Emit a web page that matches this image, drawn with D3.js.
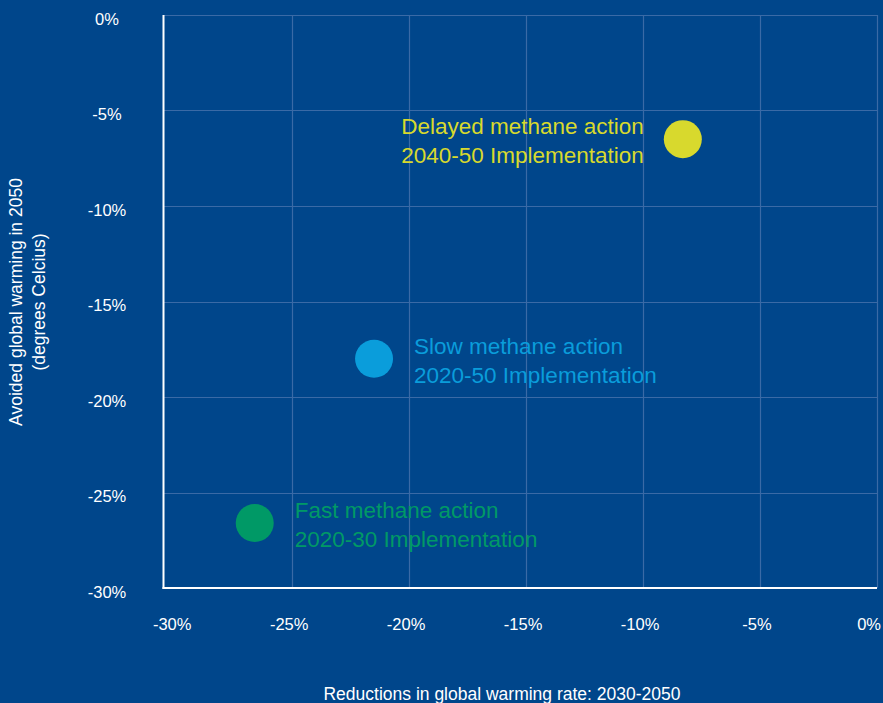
<!DOCTYPE html>
<html>
<head>
<meta charset="utf-8">
<script src="https://cdn.jsdelivr.net/npm/d3@7"></script>
<style>
  html, body { margin: 0; padding: 0; background: #00468b; }
  svg { display: block; font-family: "Liberation Sans", Arial, sans-serif; }
</style>
</head>
<body>
<svg id="chart" width="883" height="703"></svg>
<script>
// Methane action scenarios: warming-rate reduction (x) vs avoided warming (y), in %
const scenarios = ["Fast methane action", "Slow methane action", "Delayed methane action"];
const periods = ["2020-30 Implementation", "2020-50 Implementation", "2040-50 Implementation"];
const rateReduction = [-26.6, -21.5, -8.3];
const avoidedWarming = [-26.6, -18.0, -6.5];
const colors = ["#009966", "#0a9ddb", "#d8d92d"];

const xTicks = [-30, -25, -20, -15, -10, -5, 0];
const yTicks = [0, -5, -10, -15, -20, -25, -30];
const xTitle = "Reductions in global warming rate: 2030-2050";
const yTitle = ["Avoided global warming in 2050", "(degrees Celcius)"];

const svg = d3.select("#chart");
const W = 883, H = 703;

svg.append("rect").attr("width", W).attr("height", H).attr("fill", "#00468b");

const x = d3.scaleLinear().domain([-30.5, 0]).range([163.5, 877]);
const y = d3.scaleLinear().domain([-30, 0]).range([588, 15]);

const gridColor = "#3a6aa6";

// vertical gridlines
svg.append("g")
  .selectAll("line")
  .data(xTicks.filter(d => d > -30))
  .join("line")
  .attr("x1", d => Math.round(x(d)) + 0.5)
  .attr("x2", d => Math.round(x(d)) + 0.5)
  .attr("y1", y(0))
  .attr("y2", y(-30))
  .attr("stroke", gridColor)
  .attr("stroke-width", 1.2);

// horizontal gridlines
svg.append("g")
  .selectAll("line")
  .data(yTicks.filter(d => d > -30))
  .join("line")
  .attr("x1", x(-30.5))
  .attr("x2", x(0))
  .attr("y1", d => Math.round(y(d)) + 0.5)
  .attr("y2", d => Math.round(y(d)) + 0.5)
  .attr("stroke", gridColor)
  .attr("stroke-width", 1.2);

// axis lines
svg.append("line")
  .attr("x1", x(-30.5)).attr("x2", x(-30.5))
  .attr("y1", y(0)).attr("y2", y(-30) + 1)
  .attr("stroke", "#ffffff").attr("stroke-width", 2);
svg.append("line")
  .attr("x1", x(-30.5) - 1).attr("x2", x(0))
  .attr("y1", y(-30)).attr("y2", y(-30))
  .attr("stroke", "#ffffff").attr("stroke-width", 2);

// tick labels
svg.append("g")
  .selectAll("text")
  .data(yTicks)
  .join("text")
  .attr("x", 107)
  .attr("y", d => y(d) + 4)
  .attr("dy", "0.35em")
  .attr("text-anchor", "middle")
  .attr("fill", "#ffffff")
  .attr("font-size", 16.5)
  .text(d => d + "%");

svg.append("g")
  .selectAll("text")
  .data(xTicks)
  .join("text")
  .attr("x", d => d === 0 ? 881 : x(d) - 3)
  .attr("y", 624)
  .attr("dy", "0.35em")
  .attr("text-anchor", d => d === 0 ? "end" : "middle")
  .attr("fill", "#ffffff")
  .attr("font-size", 16.5)
  .text(d => d + "%");

// axis titles
svg.append("text")
  .attr("x", 502).attr("y", 694)
  .attr("dy", "0.35em")
  .attr("text-anchor", "middle")
  .attr("fill", "#ffffff")
  .attr("font-size", 17.5)
  .text(xTitle);

svg.append("text")
  .attr("transform", "translate(16,302) rotate(-90)")
  .attr("text-anchor", "middle")
  .attr("fill", "#ffffff")
  .attr("font-size", 17.5)
  .selectAll("tspan")
  .data(yTitle)
  .join("tspan")
  .attr("x", 0)
  .attr("dy", (d, i) => i === 0 ? "0.35em" : "23px")
  .text(d => d);

// scenario points
const pts = scenarios.map((s, i) => ({
  name: s, period: periods[i], xv: rateReduction[i], yv: avoidedWarming[i], color: colors[i]
}));

svg.append("g")
  .selectAll("circle")
  .data(pts)
  .join("circle")
  .attr("cx", d => x(d.xv))
  .attr("cy", d => y(d.yv))
  .attr("r", 19)
  .attr("fill", d => d.color);

// scenario labels: delayed sits left of its point, others to the right
const labels = svg.append("g")
  .selectAll("text")
  .data(pts)
  .join("text")
  .attr("fill", d => d.color)
  .attr("font-size", 22.5)
  .attr("text-anchor", d => d.name.startsWith("Delayed") ? "end" : "start")
  .attr("transform", d => {
    const px = d.name.startsWith("Delayed") ? x(d.xv) - 39 : x(d.xv) + 40;
    return `translate(${px},${y(d.yv) - 13})`;
  });

labels.selectAll("tspan")
  .data(d => [d.name, d.period])
  .join("tspan")
  .attr("x", 0)
  .attr("dy", (d, i) => i === 0 ? "0.35em" : "29px")
  .text(d => d);
</script>
</body>
</html>
